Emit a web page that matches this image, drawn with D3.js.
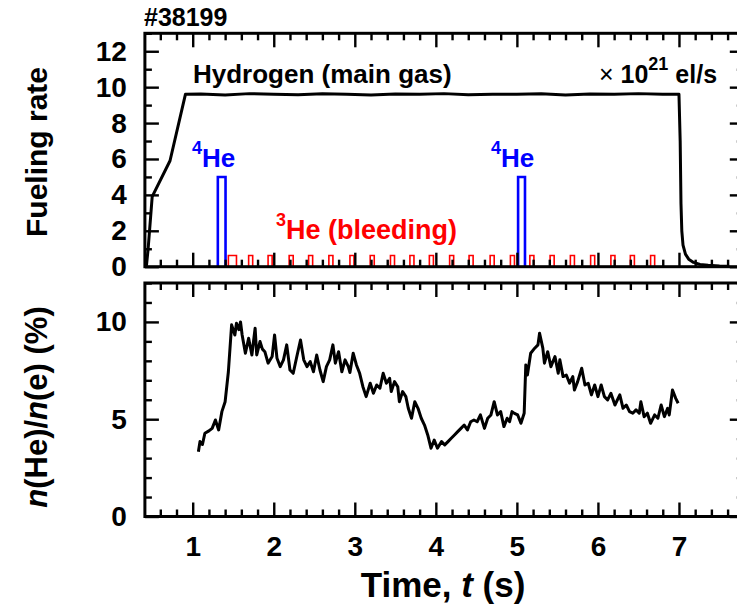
<!DOCTYPE html>
<html>
<head>
<meta charset="utf-8">
<script src="https://cdn.jsdelivr.net/npm/d3@7"></script>
<style>
  body { margin: 0; background: #fff; }
  svg { display: block; }
  text { font-family: "Liberation Sans", Arial, Helvetica, sans-serif; font-weight: bold; fill: #000; }
</style>
</head>
<body>
<svg id="chart" width="737" height="612"></svg>
<script>
// Shot number
const shotLabel = "#38199";

// Main-gas (hydrogen) fuelling rate, 10^21 el/s
const hydrogenTime = [0.41, 0.43, 0.45, 0.50, 0.72, 0.91, 1.10, 1.40, 1.70, 2.00, 2.30, 2.60, 2.90, 3.20, 3.50, 3.80,
  4.10, 4.40, 4.70, 5.00, 5.30, 5.60, 5.90, 6.20, 6.50, 6.80, 7.00, 7.015, 7.025, 7.035, 7.05, 7.08, 7.12, 7.18,
  7.26, 7.36, 7.50, 7.62];
const hydrogenRate = [0.0, 0.1, 1.0, 3.9, 5.9, 9.6, 9.62, 9.57, 9.64, 9.6, 9.58, 9.63, 9.6, 9.57, 9.62, 9.6,
  9.64, 9.58, 9.61, 9.6, 9.63, 9.57, 9.62, 9.6, 9.64, 9.6, 9.6, 7.0, 3.5, 2.0, 1.2, 0.7, 0.42, 0.24,
  0.13, 0.08, 0.04, 0.02];

// 4He puffs: start, end (s) and rate
const he4Start = [1.31, 5.015];
const he4End = [1.405, 5.10];
const he4Rate = [5.0, 5.0];

// 3He bleeding pulses: start, end (s) and rate
const he3Start = [1.44, 1.69, 1.93, 2.19, 2.43, 2.68, 2.94, 3.19, 3.44, 3.68, 3.92, 4.17, 4.41, 4.67, 4.92,
  5.16, 5.41, 5.66, 5.91, 6.16, 6.40, 6.65];
const he3End = [1.54, 1.74, 1.98, 2.24, 2.48, 2.73, 2.99, 3.24, 3.49, 3.73, 3.97, 4.22, 4.46, 4.72, 4.97,
  5.21, 5.46, 5.71, 5.96, 6.21, 6.45, 6.70];
const he3Rate = 0.62;

// Helium concentration n(He)/n(e), %
const ratioTime = [1.07, 1.09, 1.12, 1.15, 1.20, 1.24, 1.28, 1.32, 1.36, 1.40, 1.44, 1.48, 1.52, 1.54, 1.57,
  1.59, 1.61, 1.65, 1.69, 1.73, 1.77, 1.79, 1.83, 1.86, 1.89, 1.93, 1.98, 2.01, 2.04, 2.08, 2.12, 2.16, 2.20,
  2.24, 2.28, 2.33, 2.37, 2.41, 2.45, 2.49, 2.53, 2.57, 2.61, 2.65, 2.69, 2.73, 2.76, 2.80, 2.84, 2.88, 2.92,
  2.94, 2.98, 3.02, 3.06, 3.10, 3.14, 3.19, 3.23, 3.27, 3.31, 3.35, 3.39, 3.43, 3.45, 3.49, 3.53, 3.55, 3.59,
  3.63, 3.66, 3.70, 3.74, 3.78, 3.82, 3.86, 3.90, 3.94, 3.98, 4.02, 4.07, 4.11, 4.15, 4.19, 4.23, 4.27, 4.31,
  4.35, 4.39, 4.43, 4.47, 4.51, 4.55, 4.60, 4.64, 4.68, 4.72, 4.76, 4.80, 4.84, 4.88, 4.91, 4.94, 4.97, 5.01,
  5.05, 5.09, 5.11, 5.13, 5.17, 5.22, 5.26, 5.28, 5.32, 5.34, 5.38, 5.42, 5.47, 5.51, 5.53, 5.57, 5.61, 5.65,
  5.69, 5.71, 5.75, 5.80, 5.84, 5.88, 5.92, 5.96, 6.00, 6.04, 6.08, 6.12, 6.16, 6.21, 6.27, 6.31, 6.35, 6.39,
  6.43, 6.47, 6.51, 6.53, 6.57, 6.61, 6.65, 6.70, 6.74, 6.78, 6.82, 6.86, 6.88, 6.92, 6.96, 6.99];
const ratioValue = [3.33, 3.85, 3.7, 4.28, 4.4, 4.53, 4.96, 4.45, 5.39, 5.9, 7.44, 9.85, 9.33, 9.93, 9.6,
  10.0, 9.33, 8.39, 9.16, 8.3, 9.68, 8.3, 8.99, 8.6, 8.47, 7.88, 8.22, 9.33, 8.13, 7.70, 8.05, 8.82, 7.53,
  7.36, 8.13, 9.07, 8.05, 7.70, 7.96, 7.44, 8.3, 7.53, 6.93, 7.70, 8.05, 8.82, 7.88, 8.47, 7.44, 8.05, 7.70,
  7.4, 8.39, 7.79, 7.36, 6.67, 6.16, 6.85, 6.33, 6.76, 6.59, 7.36, 6.85, 7.1, 6.42, 6.93, 6.67, 5.9, 6.42,
  6.16, 5.56, 5.05, 5.9, 5.56, 5.05, 4.70, 4.19, 3.51, 3.93, 3.51, 3.85, 3.68, 3.85, 4.02, 4.19, 4.36, 4.53,
  4.70, 4.45, 4.87, 4.96, 4.87, 5.22, 4.53, 5.05, 5.22, 5.9, 5.22, 5.39, 4.62, 5.05, 4.87, 5.39, 5.3, 5.22,
  4.79, 5.31, 7.79, 7.27, 8.39, 8.65, 8.82, 9.42, 8.65, 7.88, 8.47, 7.70, 8.22, 7.36, 8.05, 7.19, 7.27, 6.85,
  7.19, 6.50, 6.93, 7.62, 6.76, 6.85, 6.25, 6.76, 6.16, 6.76, 6.16, 5.99, 6.33, 5.73, 6.25, 5.56, 5.73, 5.39,
  5.31, 5.48, 5.31, 5.9, 5.13, 5.31, 4.79, 5.22, 5.05, 5.73, 5.13, 5.56, 5.22, 6.50, 6.07, 5.82];

// Tick values
const timeTicks = [1, 2, 3, 4, 5, 6, 7];
const timeMinorTicks = [0.6, 0.8, 1.2, 1.4, 1.6, 1.8, 2.2, 2.4, 2.6, 2.8, 3.2, 3.4, 3.6, 3.8, 4.2, 4.4, 4.6, 4.8,
  5.2, 5.4, 5.6, 5.8, 6.2, 6.4, 6.6, 6.8, 7.2, 7.4, 7.6];
const rateTicks = [0, 2, 4, 6, 8, 10, 12];
const rateMinorTicks = [1, 3, 5, 7, 9, 11, 13];
const ratioTicks = [0, 5, 10];
const ratioMinorTicks = [1, 2, 3, 4, 6, 7, 8, 9, 11, 12];

const svg = d3.select("#chart");

const x = d3.scaleLinear().domain([0.41, 7.8]).range([144.9, 743.8]);
const yTop = d3.scaleLinear().domain([0, 13]).range([266.7, 33.3]);
const yBot = d3.scaleLinear().domain([0, 12]).range([516.5, 283]);

const MAJOR = 14, MINOR = 7;

function frameAxes(y, yMajor, yMinor, showX) {
  const [yb, yt] = y.range();
  const [xl, xr] = x.range();
  const g = svg.append("g");
  const add = (axis, tx, ty) => {
    const a = g.append("g").attr("transform", `translate(${tx},${ty})`).call(axis);
    a.select(".domain").remove();
    a.selectAll("line").attr("stroke", "#000").attr("stroke-width", 2.4);
    return a;
  };
  // bottom
  add(d3.axisBottom(x).tickValues(timeMinorTicks).tickSize(-MINOR).tickFormat(""), 0, yb);
  const xb = add(d3.axisBottom(x).tickValues(timeTicks).tickSize(-MAJOR).tickPadding(20)
    .tickFormat(showX ? d3.format("d") : ""), 0, yb);
  xb.selectAll("text").attr("font-size", 28).attr("font-family", null).attr("fill", "#000");
  // top
  add(d3.axisTop(x).tickValues(timeMinorTicks).tickSize(-MINOR).tickFormat(""), 0, yt);
  add(d3.axisTop(x).tickValues(timeTicks).tickSize(-MAJOR).tickFormat(""), 0, yt);
  // left
  add(d3.axisLeft(y).tickValues(yMinor).tickSize(-MINOR).tickFormat(""), xl, 0);
  const yl = add(d3.axisLeft(y).tickValues(yMajor).tickSize(-MAJOR).tickPadding(18).tickFormat(d3.format("d")), xl, 0);
  yl.selectAll("text").attr("font-size", 28).attr("font-family", null).attr("fill", "#000");
  // right
  add(d3.axisRight(y).tickValues(yMinor).tickSize(-MINOR).tickFormat(""), xr, 0);
  add(d3.axisRight(y).tickValues(yMajor).tickSize(-MAJOR).tickFormat(""), xr, 0);
  // frame
  g.append("rect").attr("x", xl).attr("y", yt).attr("width", xr - xl).attr("height", yb - yt)
    .attr("fill", "none").attr("stroke", "#000").attr("stroke-width", 3);
}

// ---------- top panel: fuelling rates ----------
const lineTop = d3.line().x(d => x(d[0])).y(d => yTop(d[1]));
const pulsePath = (s, e, h) => lineTop([[s, 0], [s, h], [e, h], [e, 0]]);

svg.append("g").selectAll("path").data(he3Start).join("path")
  .attr("d", (s, i) => pulsePath(s, he3End[i], he3Rate))
  .attr("fill", "none").attr("stroke", "#ff0000").attr("stroke-width", 1.6);

svg.append("g").selectAll("path").data(he4Start).join("path")
  .attr("d", (s, i) => pulsePath(s, he4End[i], he4Rate[i]))
  .attr("fill", "none").attr("stroke", "#0000ff").attr("stroke-width", 2.6);

svg.append("path")
  .attr("d", lineTop(hydrogenTime.map((t, i) => [t, hydrogenRate[i]])))
  .attr("fill", "none").attr("stroke", "#000").attr("stroke-width", 3).attr("stroke-linejoin", "round");

frameAxes(yTop, rateTicks, rateMinorTicks, false);

// ---------- bottom panel: helium concentration ----------
const lineBot = d3.line().x(d => x(d[0])).y(d => yBot(d[1]));
svg.append("path")
  .attr("d", lineBot(ratioTime.map((t, i) => [t, ratioValue[i]])))
  .attr("fill", "none").attr("stroke", "#000").attr("stroke-width", 3).attr("stroke-linejoin", "round");

frameAxes(yBot, ratioTicks, ratioMinorTicks, true);

// ---------- labels ----------
svg.append("text").attr("x", 144).attr("y", 26).attr("font-size", 25).text(shotLabel);

svg.append("text").attr("x", 193).attr("y", 83).attr("font-size", 26).text("Hydrogen (main gas)");

const unit = svg.append("text").attr("x", 599).attr("y", 83).attr("font-size", 25);
unit.append("tspan").attr("font-weight", "normal").text("\u00d7 ");
unit.append("tspan").text("10");
unit.append("tspan").attr("dy", -13).attr("font-size", 18).text("21");
unit.append("tspan").attr("dy", 13).text(" el/s");

function heLabel(xp, yp, mass, color, rest, size) {
  const t = svg.append("text").attr("x", xp).attr("y", yp).attr("font-size", size).attr("fill", color);
  t.append("tspan").attr("dy", -13).attr("font-size", 18).attr("fill", color).text(mass);
  t.append("tspan").attr("dy", 13).attr("fill", color).text("He" + rest);
}
heLabel(192, 167, "4", "#0000ff", "", 26);
heLabel(491, 167, "4", "#0000ff", "", 26);
heLabel(276, 239, "3", "#ff0000", " (bleeding)", 27);

svg.append("text").attr("transform", "translate(47,152) rotate(-90)").attr("text-anchor", "middle")
  .attr("font-size", 30).text("Fueling rate");

const yl2 = svg.append("text").attr("transform", "translate(47,407) rotate(-90)").attr("text-anchor", "middle")
  .attr("font-size", 31);
yl2.append("tspan").attr("font-style", "italic").text("n");
yl2.append("tspan").text("(He)/");
yl2.append("tspan").attr("font-style", "italic").text("n");
yl2.append("tspan").text("(e) (%)");

const xl = svg.append("text").attr("x", 443).attr("y", 597).attr("text-anchor", "middle").attr("font-size", 35);
xl.append("tspan").text("Time, ");
xl.append("tspan").attr("font-style", "italic").text("t");
xl.append("tspan").text(" (s)");
</script>
</body>
</html>
